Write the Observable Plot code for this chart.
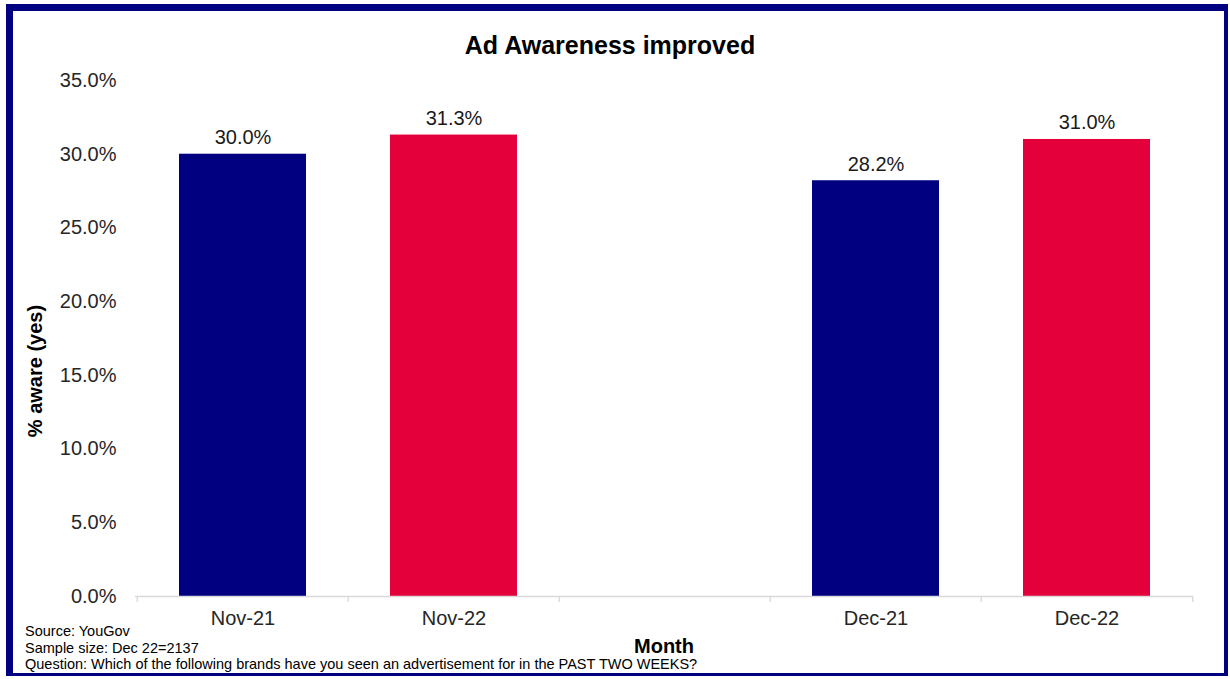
<!DOCTYPE html>
<html>
<head>
<meta charset="utf-8">
<script src="https://cdn.jsdelivr.net/npm/d3@7"></script>
<script src="https://cdn.jsdelivr.net/npm/@observablehq/plot@0.6"></script>
<style>
  html, body { margin: 0; padding: 0; background: #fff; }
  body { width: 1230px; height: 679px; position: relative; overflow: hidden; font-family: "Liberation Sans", Arial, sans-serif; color: #262626; }
  #frame { position: absolute; left: 6px; top: 4px; width: 1211px; height: 662px; border-style: solid; border-color: #000080; border-width: 7px 4px 3px 7px; }
  #chart { position: absolute; left: 0; top: 0; }
  .title { position: absolute; left: 0; width: 1220px; top: 31px; text-align: center; font-weight: bold; font-size: 25px; color: #000; }
  .ylabel { position: absolute; left: 35px; top: 371px; transform: translate(-50%, -50%) rotate(-90deg); font-weight: bold; font-size: 20px; white-space: nowrap; color: #000; }
  .xlabel { position: absolute; left: 664px; top: 646px; transform: translate(-50%, -50%); font-weight: bold; font-size: 20px; color: #000; }
  .caption { position: absolute; left: 25px; top: 623px; font-size: 14.5px; line-height: 16.5px; color: #000; white-space: nowrap; }
</style>
</head>
<body>
<div id="frame"></div>
<div id="chart"></div>
<div class="title">Ad Awareness improved</div>
<div class="ylabel">% aware (yes)</div>
<div class="xlabel">Month</div>
<div class="caption" id="caption"></div>
<script>
const categories = ["Nov-21", "Nov-22", "", "Dec-21", "Dec-22"];
const barCategories = ["Nov-21", "Nov-22", "Dec-21", "Dec-22"];
const values = [30.0, 31.3, 28.2, 31.0];
const barColors = ["#000080", "#E4003A", "#000080", "#E4003A"];
const yTicks = [0, 5, 10, 15, 20, 25, 30, 35];
const captionLines = [
  "Source: YouGov",
  "Sample size: Dec 22=2137",
  "Question: Which of the following brands have you seen an advertisement for in the PAST TWO WEEKS?"
];

const data = barCategories.map((c, i) => ({cat: c, value: values[i], color: barColors[i]}));

const W = 1230, H = 679, ML = 135, MR = 37, MT = 80, MB = 83;
const step = (W - ML - MR) / categories.length;
const fmt = d => d.toFixed(1) + "%";

const chart = Plot.plot({
  width: W,
  height: H,
  marginLeft: ML,
  marginRight: MR,
  marginTop: MT,
  marginBottom: MB,
  style: {fontFamily: "'Liberation Sans', Arial, sans-serif", fontSize: "20px", color: "#262626", background: "transparent"},
  x: {type: "band", domain: categories, paddingInner: 0.4, paddingOuter: 0.2, label: null},
  y: {domain: [0, 35], label: null},
  marks: [
    Plot.axisY({ticks: yTicks, tickFormat: fmt, tickSize: 0, tickPadding: 19, fontSize: 20, label: null}),
    Plot.axisX({tickSize: 0, tickPadding: 14, fontSize: 20, label: null}),
    Plot.barY(data, {x: "cat", y: "value", fill: "color"}),
    Plot.ruleY([0], {stroke: "#d9d9d9", strokeWidth: 1.3}),
    Plot.ruleX(categories, {x: d => d, dx: -step / 2, y1: 0, y2: 0, insetTop: 0, insetBottom: -6, stroke: "#d9d9d9", strokeWidth: 1.3}),
    Plot.ruleX(categories.slice(-1), {x: d => d, dx: step / 2, y1: 0, y2: 0, insetTop: 0, insetBottom: -6, stroke: "#d9d9d9", strokeWidth: 1.3}),
    Plot.text(data, {x: "cat", y: "value", text: d => fmt(d.value), lineAnchor: "bottom", dy: -10, fontSize: 20, fill: "#1a1a1a"})
  ]
});
document.getElementById("chart").appendChild(chart);
document.getElementById("caption").innerHTML = captionLines.map(s => `<div>${s}</div>`).join("");
</script>
</body>
</html>
